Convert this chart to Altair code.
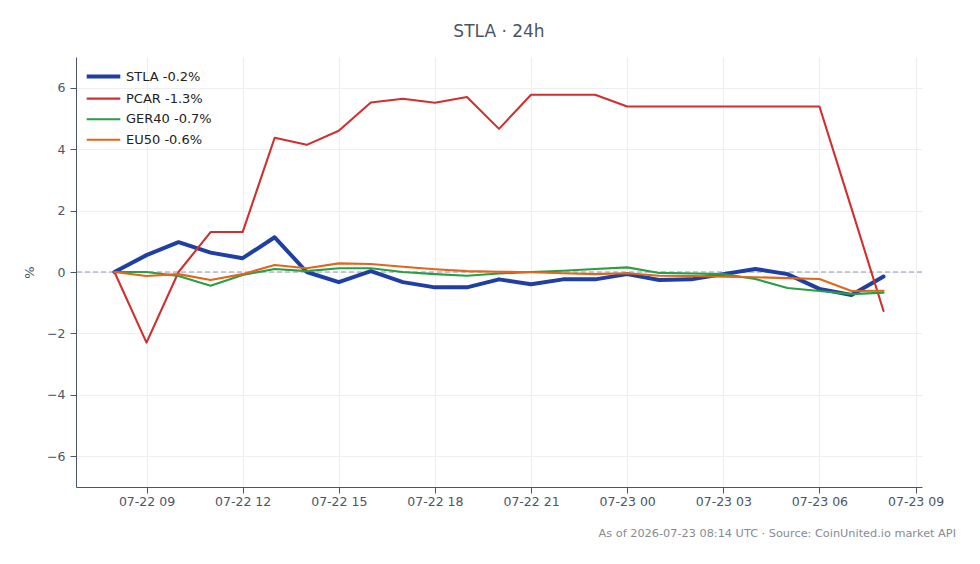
import altair as alt
import pandas as pd

times = [
    "2026-07-22T08:00:00Z", "2026-07-22T09:00:00Z", "2026-07-22T10:00:00Z", "2026-07-22T11:00:00Z",
    "2026-07-22T12:00:00Z", "2026-07-22T13:00:00Z", "2026-07-22T14:00:00Z", "2026-07-22T15:00:00Z",
    "2026-07-22T16:00:00Z", "2026-07-22T17:00:00Z", "2026-07-22T18:00:00Z", "2026-07-22T19:00:00Z",
    "2026-07-22T20:00:00Z", "2026-07-22T21:00:00Z", "2026-07-22T22:00:00Z", "2026-07-22T23:00:00Z",
    "2026-07-23T00:00:00Z", "2026-07-23T01:00:00Z", "2026-07-23T02:00:00Z", "2026-07-23T03:00:00Z",
    "2026-07-23T04:00:00Z", "2026-07-23T05:00:00Z", "2026-07-23T06:00:00Z", "2026-07-23T07:00:00Z",
    "2026-07-23T08:00:00Z",
]

stla = [0, 0.55, 0.97, 0.63, 0.45, 1.13, 0.0, -0.33, 0.03, -0.33, -0.5, -0.5, -0.24,
        -0.4, -0.24, -0.24, -0.07, -0.26, -0.24, -0.07, 0.1, -0.07, -0.55, -0.75, -0.15]
pcar = [0, -2.3, 0.0, 1.3, 1.3, 4.37, 4.14, 4.6, 5.52, 5.64, 5.51, 5.7, 4.66,
        5.77, 5.77, 5.77, 5.39, 5.39, 5.39, 5.39, 5.39, 5.39, 5.39, 2.07, -1.27]
ger40 = [0, 0.0, -0.13, -0.45, -0.1, 0.1, 0.03, 0.12, 0.12, 0.0, -0.07, -0.12, -0.05,
         0.0, 0.04, 0.1, 0.15, -0.03, -0.05, -0.07, -0.23, -0.52, -0.62, -0.72, -0.67]
eu50 = [0, -0.13, -0.07, -0.26, -0.07, 0.23, 0.12, 0.28, 0.26, 0.17, 0.09, 0.03, 0.01,
        -0.01, -0.04, -0.07, -0.04, -0.12, -0.13, -0.15, -0.17, -0.2, -0.23, -0.62, -0.61]

series_names = ["STLA -0.2%", "PCAR -1.3%", "GER40 -0.7%", "EU50 -0.6%"]
series_values = [stla, pcar, ger40, eu50]
series_colors = ["#1f3fa3", "#d12f2f", "#2a9d45", "#e0661c"]
series_widths = [4, 2.1, 2.1, 2.1]

y_ticks = [-6, -4, -2, 0, 2, 4, 6]
title_text = "STLA · 24h"
footer_text = "As of 2026-07-23 08:14 UTC · Source: CoinUnited.io market API"

rows = []
for name, vals in zip(series_names, series_values):
    for t, v in zip(times, vals):
        rows.append({"time": t, "pct": v, "series": name})
df = pd.DataFrame(rows)

x_ticks = [alt.DateTime(year=2026, month=7, date=22 + (h // 24), hours=h % 24, utc=True)
           for h in [9, 12, 15, 18, 21, 24, 27, 30, 33]]

axis_color = "#4a5568"
grid_color = "#eceef1"

x_enc = alt.X(
    "time:T",
    scale=alt.Scale(type="utc", domain=[
        alt.DateTime(year=2026, month=7, date=22, hours=6, minutes=48, utc=True),
        alt.DateTime(year=2026, month=7, date=23, hours=9, minutes=12, utc=True),
    ]),
    axis=alt.Axis(values=x_ticks, format="%m-%d %H", title=None, grid=True,
                  labelFontSize=12.5, labelColor=axis_color, tickColor=axis_color,
                  domainColor=axis_color, tickSize=6, labelPadding=2, gridColor=grid_color,
                  labelFont="DejaVu Sans"),
)
y_enc = alt.Y(
    "pct:Q",
    scale=alt.Scale(domain=[-7, 7], nice=False, zero=False),
    axis=alt.Axis(values=y_ticks, title="%", grid=True, labelFontSize=12.5,
                  labelColor=axis_color, tickColor=axis_color, domainColor=axis_color,
                  tickSize=6, labelPadding=5, gridColor=grid_color, titleColor=axis_color,
                  titleFontSize=13, titleFontWeight="normal", titleFont="DejaVu Sans",
                  labelFont="DejaVu Sans", titleX=-40, titleY=215, titleAngle=270),
)

legend = alt.Legend(title=None, orient="none", legendX=15, legendY=7, labelFontSize=13,
                    labelColor="#222222", labelFont="DejaVu Sans", symbolType="M-1.6,0H1.6",
                    symbolSize=441, rowPadding=1.6, padding=0, labelOffset=10)

zero = alt.Chart(pd.DataFrame({"z": [0]})).mark_rule(
    color="#8d99ad", strokeDash=[5, 3], strokeWidth=1
).encode(y=alt.Y("z:Q", scale=alt.Scale(domain=[-7, 7], nice=False)))

lines = alt.Chart(df).mark_line(strokeJoin="round", strokeCap="round").encode(
    x=x_enc,
    y=y_enc,
    color=alt.Color("series:N", sort=series_names,
                    scale=alt.Scale(domain=series_names, range=series_colors),
                    legend=legend),
    strokeWidth=alt.StrokeWidth("series:N", sort=series_names,
                                scale=alt.Scale(type="ordinal", domain=series_names,
                                                range=series_widths),
                                legend=legend),
)

footer = alt.Chart(pd.DataFrame({"t": [footer_text]})).mark_text(
    align="right", baseline="middle", fontSize=11.3, color="#858b94", font="DejaVu Sans"
).encode(text="t:N", x=alt.value(880), y=alt.value(477))

chart = alt.layer(zero, lines, footer).properties(
    width=846, height=430,
    background="white",
    title=alt.Title(title_text, fontSize=17, color=axis_color, font="DejaVu Sans",
                    fontWeight="normal", offset=16),
    autosize=alt.AutoSizeParams(type="none"),
    padding={"left": 76, "top": 57, "right": 58, "bottom": 77},
).configure_view(stroke=None).configure_axisX(domainWidth=1)

chart.save("out.html", embed_options={"renderer": "svg", "actions": False})
